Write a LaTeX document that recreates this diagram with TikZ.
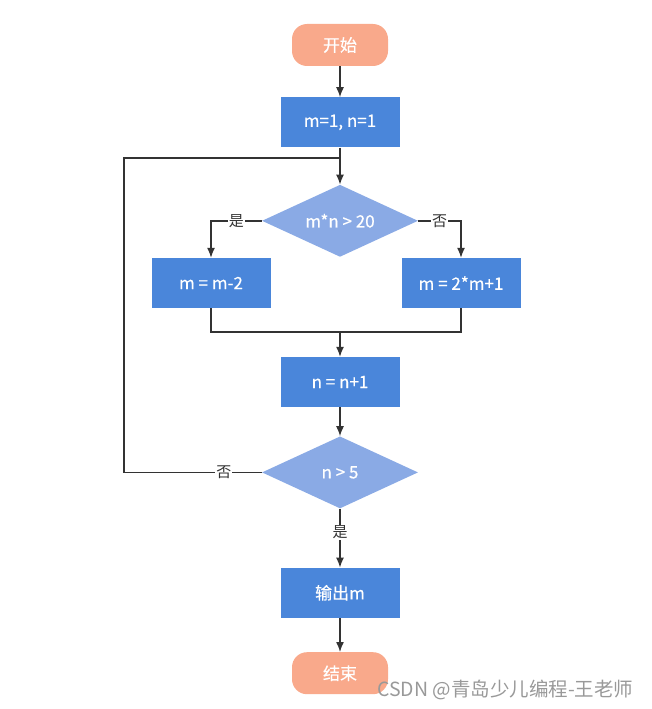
\documentclass[tikz,border=0pt]{standalone}
\usepackage{fontspec}
\setmainfont{Noto Sans CJK SC}
\newfontfamily\boxfont[FakeBold=0.5]{Noto Sans CJK SC}
\usetikzlibrary{arrows.meta,positioning,shapes.geometric}

\definecolor{termfill}{HTML}{F9A98B}
\definecolor{procfill}{HTML}{4A86DA}
\definecolor{condfill}{HTML}{8AAAE5}
\definecolor{linecol}{HTML}{333333}

\begin{document}
\begin{tikzpicture}[x=1pt,y=-1pt,>={Latex[length=10pt,width=8pt]},
  font=\fontsize{15}{17}\selectfont]
  \tikzstyle{term}=[fill=termfill,rounded corners=15pt,minimum width=96pt,minimum height=42pt,text=white,font=\boxfont\fontsize{17}{19}\selectfont]
  \tikzstyle{proc}=[fill=procfill,minimum width=119pt,minimum height=50pt,text=white,font=\boxfont\fontsize{17}{19}\selectfont]
  \tikzstyle{cond}=[diamond,aspect=2.17,fill=condfill,inner sep=0pt,minimum width=156pt,minimum height=72pt,text=white,font=\boxfont\fontsize{17}{19}\selectfont]
  \tikzstyle{line}=[draw=linecol,line width=1.4pt]
  \tikzstyle{arr}=[line,->]
  \tikzstyle{lbl}=[fill=white,inner sep=1pt,text=linecol]
  \useasboundingbox (0,0) rectangle (652,709);
  % main column
  \node[term] (start) at (340,45) {开始};
  \node[proc,below=31pt of start] (init) {m=1, n=1};
  \node[cond,below=37pt of init] (test1) {m*n > 20};
  \node[proc] (dec) at (211,283) {m = m-2};
  \node[proc] (dbl) at (461,283) {m = 2*m+1};
  \node[proc] (inc) at (340,382) {n = n+1};
  \node[cond,below=29pt of inc] (test2) {n > 5};
  \node[proc,below=59pt of test2] (out) {输出m};
  \node[term,below=34pt of out] (stop) {结束};
  \coordinate (loopin) at (340,158);
  \coordinate (loopleft) at (124,158);
  \coordinate (merge) at (340,332);
  % connectors
  \draw[arr] (start) -- (init);
  \draw[arr] (init) -- (test1);
  \draw[arr] (test1.west) -| node[lbl,pos=0.25] {是} (dec.north);
  \draw[arr] (test1.east) -| node[lbl,pos=0.25] {否} (dbl.north);
  \draw[line] (dec.south) |- (merge);
  \draw[line] (dbl.south) |- (merge);
  \draw[arr] (merge) -- (inc);
  \draw[arr] (inc) -- (test2);
  \draw[line] (test2.west) -- node[lbl,pos=0.275] {否} (test2.west -| loopleft) -- (loopleft) -- (loopin);
  \draw[arr] (test2) -- node[lbl,pos=0.4] {是} (out);
  \draw[arr] (out) -- (stop);
  % watermark
  \node[text=gray!80,font=\fontsize{19.5}{21}\selectfont,anchor=east] (mark) at (637,690) {CSDN @青岛少儿编程-王老师};
\end{tikzpicture}
\end{document}
